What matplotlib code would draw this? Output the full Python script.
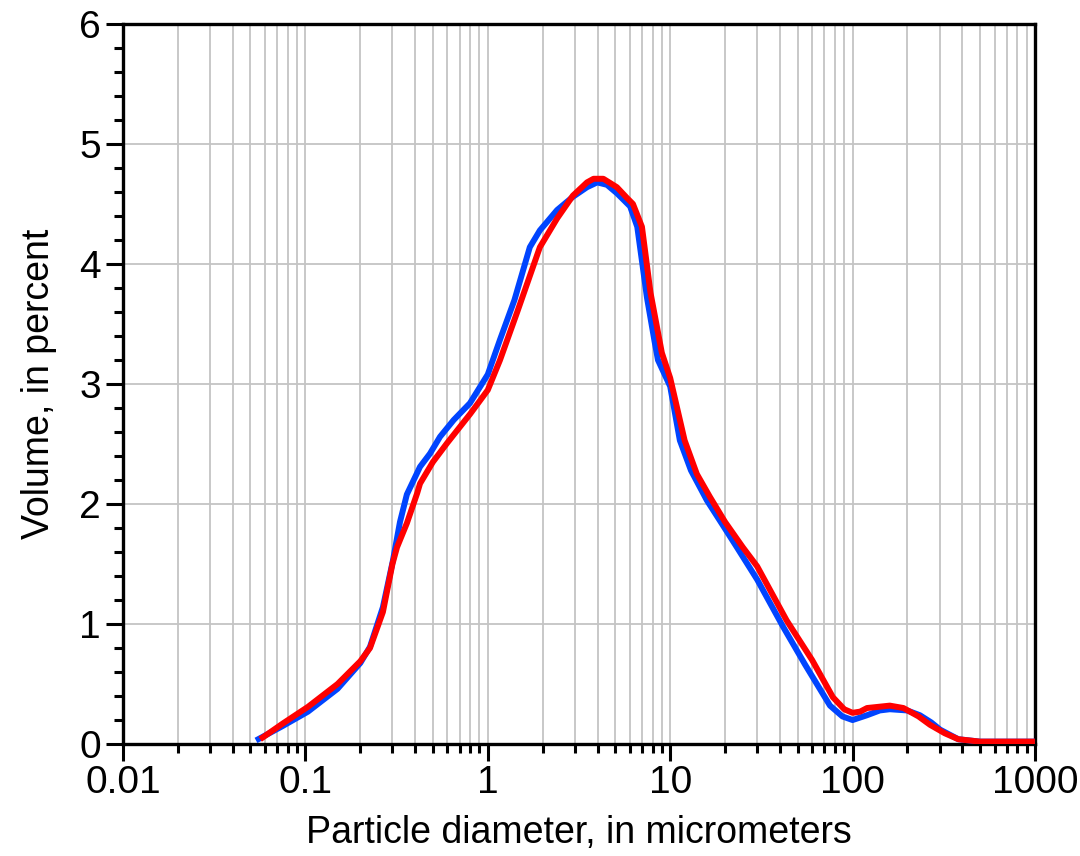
import numpy as np
import matplotlib
matplotlib.use("Agg")
import matplotlib.pyplot as plt
from matplotlib.ticker import LogLocator, NullFormatter, FixedLocator, MultipleLocator

plt.rcParams["font.family"] = ["Liberation Sans", "DejaVu Sans"]

# Particle-size distributions (diameter in micrometers, volume in percent)
blue_d = [0.0536, 0.075, 0.1033, 0.15, 0.2, 0.226, 0.266, 0.302, 0.33, 0.36, 0.425, 0.482,
          0.547, 0.65, 0.798, 1.0, 1.167, 1.4, 1.70, 1.93, 2.4, 2.93, 3.5, 3.98, 4.5, 5.1,
          6.03, 6.6, 7.46, 8.2, 8.57, 10.0, 11.3, 13.0, 15.9, 19.5, 23.2, 30.0, 41.5, 55.0,
          75.2, 88.0, 100.0, 120.0, 141.0, 160.0, 199.0, 234.0, 270.0, 302.0, 380.0, 500.0, 1000.0]
blue_v = [0.03, 0.15, 0.27, 0.46, 0.675, 0.81, 1.14, 1.53, 1.85, 2.08, 2.31, 2.42,
          2.56, 2.70, 2.84, 3.08, 3.37, 3.70, 4.14, 4.28, 4.45, 4.56, 4.64, 4.68, 4.66, 4.59,
          4.48, 4.31, 3.72, 3.36, 3.20, 2.98, 2.53, 2.28, 2.03, 1.82, 1.64, 1.37, 0.98, 0.66,
          0.32, 0.23, 0.20, 0.24, 0.28, 0.29, 0.28, 0.24, 0.18, 0.12, 0.04, 0.02, 0.02]

red_d = [0.0565, 0.075, 0.1033, 0.15, 0.2, 0.226, 0.266, 0.30, 0.318, 0.36, 0.41, 0.425,
         0.5, 0.6, 0.8, 1.0, 1.167, 1.45, 1.93, 2.4, 2.93, 3.5, 3.8, 4.3, 5.1, 5.8, 6.25,
         7.0, 7.8, 9.0, 10.0, 12.0, 14.0, 16.5, 20.0, 25.0, 30.0, 43.5, 60.0, 78.0, 90.0,
         100.0, 110.0, 120.0, 160.0, 190.0, 230.0, 266.0, 320.0, 380.0, 500.0, 1000.0]
red_v = [0.04, 0.17, 0.31, 0.50, 0.69, 0.80, 1.10, 1.50, 1.64, 1.84, 2.09, 2.17,
         2.35, 2.51, 2.75, 2.95, 3.20, 3.60, 4.14, 4.38, 4.57, 4.68, 4.71, 4.71, 4.64, 4.55, 4.50,
         4.31, 3.76, 3.26, 3.05, 2.53, 2.25, 2.06, 1.85, 1.64, 1.48, 1.03, 0.70, 0.39, 0.29,
         0.26, 0.27, 0.30, 0.32, 0.30, 0.23, 0.16, 0.09, 0.04, 0.02, 0.02]

x_ticks = [0.01, 0.1, 1, 10, 100, 1000]
x_labels = ["0.01", "0.1", "1", "10", "100", "1000"]
y_ticks = [0, 1, 2, 3, 4, 5, 6]

fig = plt.figure(figsize=(10.8, 8.56), dpi=100)
ax = fig.add_axes([0.1139, 0.1308, 0.8444, 0.8412])

ax.plot(blue_d, blue_v, color="#0044ff", lw=4.3, solid_capstyle="butt", solid_joinstyle="round", zorder=3)
ax.plot(red_d, red_v, color="#ff0000", lw=4.3, solid_capstyle="butt", solid_joinstyle="round", zorder=4)

ax.set_xscale("log")
ax.set_xlim(0.01, 1000)
ax.set_ylim(0, 6)

ax.xaxis.set_major_locator(FixedLocator(x_ticks))
ax.set_xticklabels(x_labels)
ax.xaxis.set_minor_locator(LogLocator(base=10, subs=np.arange(2, 10), numticks=20))
ax.xaxis.set_minor_formatter(NullFormatter())
ax.set_yticks(y_ticks)
ax.yaxis.set_minor_locator(MultipleLocator(0.2))

ax.grid(True, which="both", axis="x", color="#c4c4c4", lw=1.3)
ax.grid(True, which="major", axis="y", color="#c4c4c4", lw=1.3)
ax.set_axisbelow(True)

for s in ax.spines.values():
    s.set_linewidth(2.4)
    s.set_color("black")

ax.tick_params(axis="both", which="major", length=12, width=2.2, direction="out", labelsize=28, color="black")
ax.tick_params(axis="both", which="minor", length=6.5, width=2.2, direction="out")
ax.tick_params(axis="x", which="major", pad=3)
ax.tick_params(axis="y", which="major", pad=4)

ax.set_xlabel("Particle diameter, in micrometers", fontsize=27, labelpad=10)
ax.set_ylabel("Volume, in percent", fontsize=27, labelpad=16)

fig.savefig("out.png", dpi=100)
